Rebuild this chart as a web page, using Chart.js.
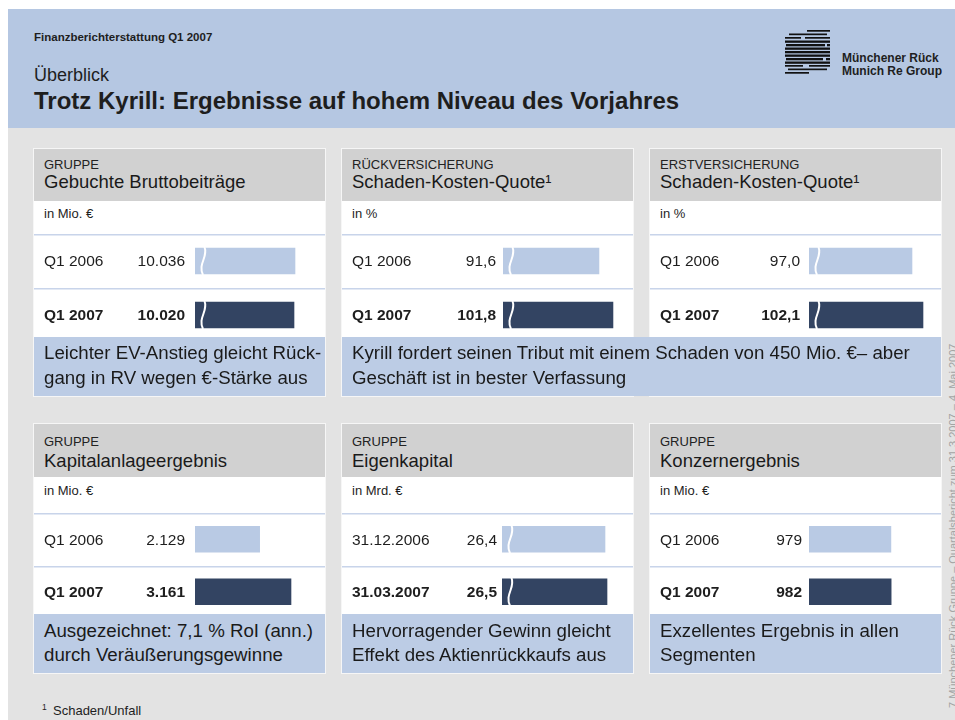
<!DOCTYPE html>
<html><head><meta charset="utf-8">
<script src="https://cdn.jsdelivr.net/npm/chart.js@4.4.1/dist/chart.umd.min.js"></script>
<style>
html,body{margin:0;padding:0;background:#fff;width:955px;height:720px;overflow:hidden;font-family:"Liberation Sans",Arial,sans-serif;color:#1e1e1e}
#slide{position:absolute;left:0;top:0;width:955px;height:720px;overflow:hidden}
.abs{position:absolute;white-space:nowrap;line-height:1}
.box{position:absolute}
canvas{position:absolute}
</style></head><body><div id="slide"></div>
<script>
// ---------------- data ----------------
const periodsQ = ["Q1 2006", "Q1 2007"];
const periodsEK = ["31.12.2006", "31.03.2007"];
const bruttobeitraege = [10036, 10020];
const skqRueck = [91.6, 101.8];
const skqErst = [97.0, 102.1];
const kapitalanlage = [2129, 3161];
const eigenkapital = [26.4, 26.5];
const konzernergebnis = [979, 982];
const segmente = ["GRUPPE", "RÜCKVERSICHERUNG", "ERSTVERSICHERUNG", "GRUPPE", "GRUPPE", "GRUPPE"];
const kennzahlen = ["Gebuchte Bruttobeiträge", "Schaden-Kosten-Quote¹", "Schaden-Kosten-Quote¹", "Kapitalanlageergebnis", "Eigenkapital", "Konzernergebnis"];
const einheiten = ["in Mio. €", "in %", "in %", "in Mio. €", "in Mrd. €", "in Mio. €"];
const kommentar1 = ["Leichter EV-Anstieg gleicht Rück-", "gang in RV wegen €-Stärke aus"];
const kommentar23 = ["Kyrill fordert seinen Tribut mit einem Schaden von 450 Mio. €– aber", "Geschäft ist in bester Verfassung"];
const kommentar4 = ["Ausgezeichnet: 7,1 % RoI (ann.)", "durch Veräußerungsgewinne"];
const kommentar5 = ["Hervorragender Gewinn gleicht", "Effekt des Aktienrückkaufs aus"];
const kommentar6 = ["Exzellentes Ergebnis in allen", "Segmenten"];

// ---------------- style ----------------
const C = {
  band: "#b5c7e2", gray: "#e3e3e3", head: "#d1d1d1", note: "#bccce5",
  light: "#b9cae4", dark: "#334462", sep: "#c8d4ea", text: "#1e1e1e"
};
const FONT = '"Liberation Sans", Arial, sans-serif';
const slide = document.getElementById("slide");

function rect(x, y, w, h, color, extra) {
  const d = document.createElement("div");
  d.className = "box";
  d.style.cssText = `left:${x}px;top:${y}px;width:${w}px;height:${h}px;background:${color};` + (extra || "");
  slide.appendChild(d);
  return d;
}
function txt(s, x, base, size, weight, align, color, z) {
  const d = document.createElement("div");
  d.className = "abs";
  d.textContent = s;
  d.style.fontSize = size + "px";
  d.style.fontWeight = weight || "normal";
  d.style.color = color || C.text;
  d.style.top = (base - 0.8465 * size) + "px";
  if (align === "right") d.style.right = (955 - x) + "px"; else d.style.left = x + "px";
  d.style.zIndex = z || 5;
  slide.appendChild(d);
  return d;
}
function fmt(v, dec) {
  const s = v.toFixed(dec).split(".");
  const i = s[0].replace(/\B(?=(\d{3})+(?!\d))/g, ".");
  return dec ? i + "," + s[1] : i;
}

// background
rect(8, 9, 947, 119, C.band);
rect(8, 128, 947, 592, C.gray);

// header
txt("Finanzberichterstattung Q1 2007", 34, 42, 11.5, "bold");
txt("Überblick", 34, 81, 18, "normal");
txt("Trotz Kyrill: Ergebnisse auf hohem Niveau des Vorjahres", 34, 109, 24, "bold");
txt("Münchener Rück", 842, 62, 12, "bold");
txt("Munich Re Group", 842, 75, 12, "bold");

// logo (stripes)
(function () {
  const segs = [[[22,45]],[[4,42]],[[0,16],[20,45]],[[0,45]],[[1,40],[42,45]],[[0,45]],[[0,45]],[[0,45]],[[1,38],[41,45]],[[0,45]],[[0,18],[24,45]],[[3,42]],[[0,24]]];
  let svg = '<svg xmlns="http://www.w3.org/2000/svg" width="50" height="50">';
  segs.forEach((row, i) => {
    const th = (i >= 3 && i <= 9) ? 2.3 : 1.7;
    row.forEach(s => { svg += `<rect x="${s[0]}" y="${1 + i * 3.5}" width="${s[1]-s[0]}" height="${th}" fill="#111"/>`; });
  });
  svg += "</svg>";
  const d = document.createElement("div");
  d.style.cssText = "position:absolute;left:785px;top:29px;width:50px;height:50px";
  d.innerHTML = svg;
  slide.appendChild(d);
})();

// vertical side text (cut off at the right edge)
(function () {
  const d = document.createElement("div");
  d.className = "abs";
  d.textContent = "7     Münchener Rück Gruppe – Quartalsbericht zum 31.3.2007 – 4. Mai 2007";
  d.style.cssText += `font-size:11px;color:#a4a4a4;left:948px;top:708px;transform-origin:0 0;transform:rotate(-90deg);z-index:5;line-height:1`;
  slide.appendChild(d);
})();

// footnote
txt("1", 42, 710, 8.5, "normal");
txt("Schaden/Unfall", 53, 715, 13, "normal");

// ---------------- panels ----------------
const rows = [
  { top: 149, headH: 52, seg: 20, tit: 40, unit: 69, bottom: 337, noteH: 59, chartTop: 234, chartH: 108, n1: 23, n2: 48 },
  { top: 424, headH: 53, seg: 22, tit: 44, unit: 71, bottom: 614, noteH: 59, chartTop: 513, chartH: 105, n1: 24, n2: 48 }
];
const colsX = [34, 342, 650];
const PW = 291;

const panels = [
  { col: 0, row: 0, labels: periodsQ, values: bruttobeitraege, dec: 0, min: 8436, max: 10516, broken: true, padL: 161, valX: 151 },
  { col: 1, row: 0, labels: periodsQ, values: skqRueck, dec: 1, min: 21.7, max: 116.4, broken: true, padL: 161, valX: 154 },
  { col: 2, row: 0, labels: periodsQ, values: skqErst, dec: 1, min: 49.25, max: 110.45, broken: true, padL: 159, valX: 150 },
  { col: 0, row: 1, labels: periodsQ, values: kapitalanlage, dec: 0, min: 0, max: 4281, broken: false, padL: 161, valX: 151 },
  { col: 1, row: 1, labels: periodsEK, values: eigenkapital, dec: 1, min: 21.25, max: 27.8, broken: true, padL: 160, valX: 155 },
  { col: 2, row: 1, labels: periodsQ, values: konzernergebnis, dec: 0, min: 0, max: 1578, broken: false, padL: 159, valX: 152 }
];

const decoPlugin = {
  id: "deco",
  beforeDatasetsDraw(chart, args, o) {
    const ctx = chart.ctx, ys = chart.scales.y;
    const band = ys.getPixelForValue(1) - ys.getPixelForValue(0);
    ctx.save();
    ctx.strokeStyle = C.sep; ctx.lineWidth = 1.5;
    for (let i = 0; i < chart.data.labels.length; i++) {
      const yy = Math.round(ys.getPixelForValue(i) - band / 2) + 0.75;
      ctx.beginPath(); ctx.moveTo(0, yy); ctx.lineTo(chart.width, yy); ctx.stroke();
    }
    ctx.restore();
  },
  afterDatasetsDraw(chart, args, o) {
    const ctx = chart.ctx;
    const meta = chart.getDatasetMeta(0);
    const vals = chart.data.datasets[0].data;
    ctx.save();
    meta.data.forEach((bar, i) => {
      ctx.fillStyle = C.text;
      ctx.font = (i === 1 ? "bold " : "") + "15.5px " + FONT;
      ctx.textBaseline = "middle";
      ctx.textAlign = "left";
      ctx.fillText(chart.data.labels[i], 10, bar.y + 1);
      ctx.textAlign = "right";
      ctx.fillText(fmt(vals[i], o.dec), o.valX, bar.y + 1);
      if (o.broken) {
        // visible start of the bar (the axis is cut, so the bar begins at the chart area edge)
        const b = Math.max(Math.min(bar.base, bar.x), chart.chartArea.left);
        const h = bar.height, t = bar.y - h / 2, bt = bar.y + h / 2;
        ctx.strokeStyle = "#ffffff"; ctx.lineWidth = 2;
        ctx.beginPath();
        ctx.moveTo(b + 9.5, t - 1);
        ctx.bezierCurveTo(b + 13.5, t + h * 0.35, b + 2.5, t + h * 0.6, b + 8, bt + 1);
        ctx.stroke();
      }
    });
    ctx.restore();
  }
};

panels.forEach((p, idx) => {
  const r = rows[p.row], x = colsX[p.col];
  rect(x - 1, r.top - 1, PW + 2, r.bottom - r.top + r.noteH + 2, "#f6f6f6");
  rect(x, r.top, PW, r.bottom - r.top, "#ffffff");
  rect(x, r.top, PW, r.headH, C.head);
  txt(segmente[idx], x + 10, r.top + r.seg, 13, "normal", "left", "#222");
  txt(kennzahlen[idx], x + 10, r.top + r.tit, 18.5, "normal", "left", "#1a1a1a");
  txt(einheiten[idx], x + 10, r.top + r.unit, 13, "normal");

  const cv = document.createElement("canvas");
  cv.width = PW; cv.height = r.chartH;
  cv.style.left = x + "px"; cv.style.top = r.chartTop + "px";
  cv.style.width = PW + "px"; cv.style.height = r.chartH + "px";
  cv.style.zIndex = 3;
  slide.appendChild(cv);
  new Chart(cv.getContext("2d"), {
    type: "bar",
    data: { labels: p.labels, datasets: [{ data: p.values, backgroundColor: [C.light, C.dark], barThickness: 26, borderWidth: 0 }] },
    options: {
      indexAxis: "y", responsive: false, animation: false, devicePixelRatio: 1, events: [],
      layout: { padding: { left: p.padL, right: 0, top: 0, bottom: 0 } },
      plugins: { legend: { display: false }, tooltip: { enabled: false }, deco: { dec: p.dec, valX: p.valX, broken: p.broken } },
      scales: { x: { display: false, min: p.min, max: p.max }, y: { display: false } }
    },
    plugins: [decoPlugin]
  });
});

// comment boxes
function note(x, w, row, lines) {
  const r = rows[row];
  const b = rect(x, r.bottom, w, r.noteH, C.note);
  b.style.zIndex = 4;
  txt(lines[0], x + 10, r.bottom + r.n1, 18.7, "normal", "left", "#1a1a1a", 6);
  txt(lines[1], x + 10, r.bottom + r.n2, 18.7, "normal", "left", "#1a1a1a", 6);
}
note(34, PW, 0, kommentar1);
note(342, 650 + PW - 342, 0, kommentar23);
note(34, PW, 1, kommentar4);
note(342, PW, 1, kommentar5);
note(650, PW, 1, kommentar6);
</script>
</body></html>
